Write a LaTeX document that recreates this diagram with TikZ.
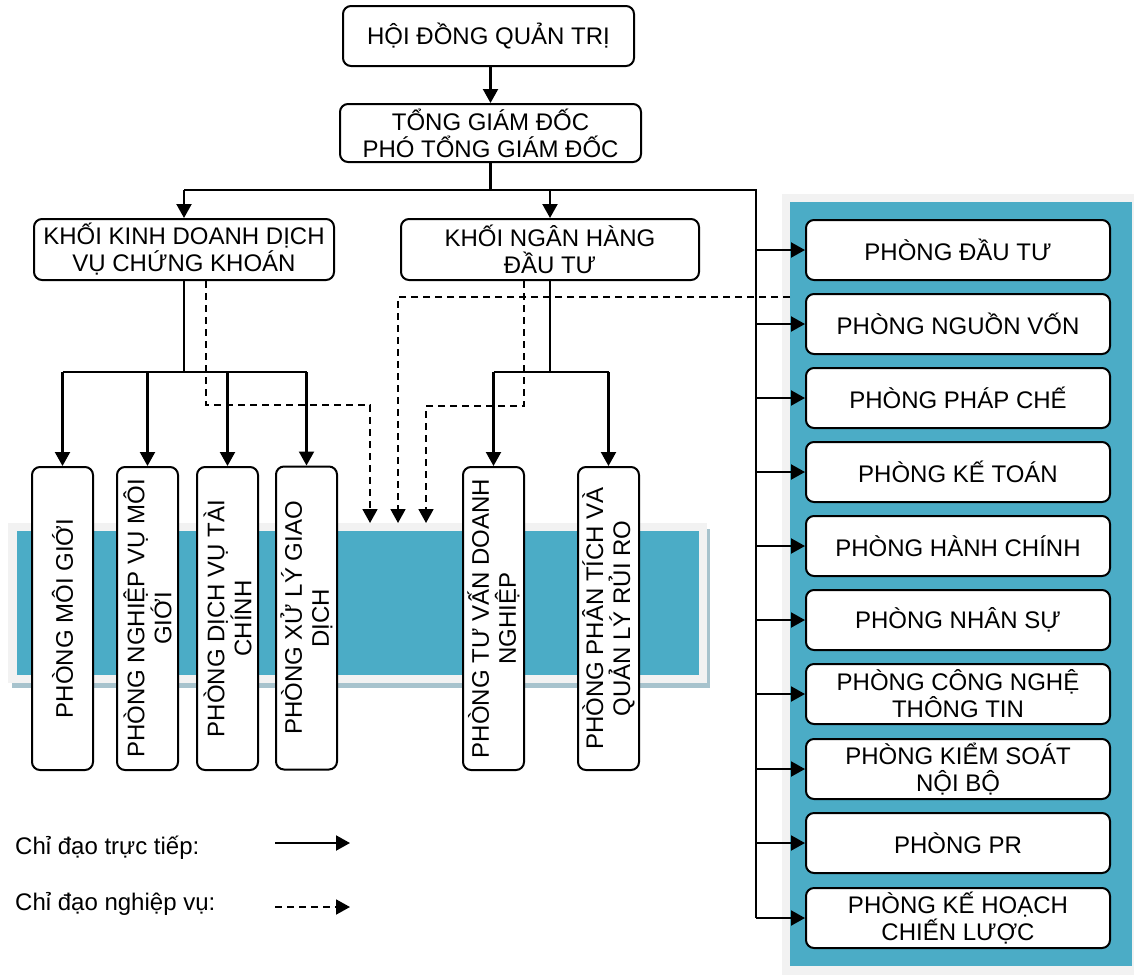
\documentclass[tikz,border=0pt]{standalone}
\usepackage{fontspec}
\setmainfont{Liberation Sans}
\usetikzlibrary{arrows.meta}
\definecolor{bandblue}{HTML}{4BACC6}
\definecolor{framegray}{HTML}{F2F2F2}
\definecolor{shadowc}{HTML}{A7C3CD}
\begin{document}
\begin{tikzpicture}[x=1pt,y=-1pt,
  box/.style={draw, line width=2pt, rounded corners=8pt, fill=white, align=center, inner sep=2pt, font=\fontsize{24}{27}\selectfont},
  vbox/.style={box, rotate=90, minimum width=303pt, minimum height=61pt},
  rbox/.style={box, minimum width=304pt, minimum height=60pt},
  link/.style={line width=2.1pt, -{Triangle[length=14pt,width=15pt]}},
  plain/.style={line width=2.1pt},
  dlink/.style={line width=1.8pt, dash pattern=on 7pt off 5pt, -{Triangle[length=14pt,width=15pt]}},
  panel/.style={inner sep=0pt, outer sep=0pt, anchor=north west},
  legend/.style={anchor=base west, inner sep=0pt, font=\fontsize{24}{27}\selectfont}
]
\useasboundingbox (0,0) rectangle (1134,975);

% left band
\fill[shadowc] (12,683) rectangle (710,688);
\fill[shadowc] (707,529) rectangle (710,688);
\node[panel, fill=framegray, minimum width=699pt, minimum height=160pt] (lframe) at (8,523) {};
\node[panel, fill=bandblue, minimum width=682pt, minimum height=144pt] (lband) at (17,531) {};

% right panel
\node[panel, fill=framegray, minimum width=352pt, minimum height=781pt] (rframe) at (782,194) {};
\node[panel, fill=bandblue, minimum width=342pt, minimum height=764pt] (rpanel) at (790,202) {};

% top boxes
\node[box, minimum width=291pt, minimum height=60pt] (hdqt) at (488.5,36) {HỘI ĐỒNG QUẢN TRỊ};
\node[box, minimum width=301pt, minimum height=58pt] (tgd) at (490.5,133) {TỔNG GIÁM ĐỐC\\PHÓ TỔNG GIÁM ĐỐC};
\node[box, minimum width=300pt, minimum height=61pt] (kkd) at (184,249.5) {KHỐI KINH DOANH DỊCH\\VỤ CHỨNG KHOÁN};
\node[box, minimum width=298pt, minimum height=61pt] (knh) at (550,249.5) {KHỐI NGÂN HÀNG\\ĐẦU TƯ};

% vertical boxes
\node[vbox] (m1) at (62.5,618.5) {PHÒNG MÔI GIỚI};
\node[vbox] (m2) at (147.5,618.5) {PHÒNG NGHIỆP VỤ MÔI\\GIỚI};
\node[vbox] (m3) at (227.5,618.5) {PHÒNG DỊCH VỤ TÀI\\CHÍNH};
\node[vbox] (m4) at (306.5,618) {PHÒNG XỬ LÝ GIAO\\DỊCH};
\node[vbox] (m5) at (493.5,618.5) {PHÒNG TƯ VẤN DOANH\\NGHIỆP};
\node[vbox] (m6) at (608.5,618.5) {PHÒNG PHÂN TÍCH VÀ\\QUẢN LÝ RỦI RO};

% right boxes
\node[rbox] (r1) at (958,250) {PHÒNG ĐẦU TƯ};
\node[rbox] (r2) at (958,324) {PHÒNG NGUỒN VỐN};
\node[rbox] (r3) at (958,398) {PHÒNG PHÁP CHẾ};
\node[rbox] (r4) at (958,472) {PHÒNG KẾ TOÁN};
\node[rbox] (r5) at (958,546) {PHÒNG HÀNH CHÍNH};
\node[rbox] (r6) at (958,620) {PHÒNG NHÂN SỰ};
\node[rbox] (r7) at (958,694) {PHÒNG CÔNG NGHỆ\\THÔNG TIN};
\node[rbox] (r8) at (958,769) {PHÒNG KIỂM SOÁT\\NỘI BỘ};
\node[rbox] (r9) at (958,843) {PHÒNG PR};
\node[rbox] (r10) at (958,918) {PHÒNG KẾ HOẠCH\\CHIẾN LƯỢC};

% main connectors
\draw[link] (hdqt.south -| tgd.south) -- (tgd.north);
\coordinate (jr) at (756,190);
\draw[plain] (tgd.south) -- (tgd.south |- jr);
\draw[plain] (kkd.north |- jr) -- (jr) -- (r10.west -| jr);
\draw[link] (kkd.north |- jr) -- (kkd.north);
\draw[link] (knh.north |- jr) -- (knh.north);
\foreach \i in {1,...,10} \draw[link] (r\i.west -| jr) -- (r\i.west);

% KKD children
\coordinate (kj) at (185,372);
\draw[plain] (kkd.south) -- (kkd.south |- kj);
\draw[plain] (m1.east |- kj) -- (m4.east |- kj);
\foreach \m in {m1,m2,m3,m4} \draw[link] (\m.east |- kj) -- (\m.east);

% KNH children
\draw[plain] (knh.south) -- (knh.south |- kj);
\draw[plain] (m5.east |- kj) -- (m6.east |- kj);
\foreach \m in {m5,m6} \draw[link] (\m.east |- kj) -- (\m.east);

% dashed connectors
\coordinate (dy) at (0,297);
\coordinate (d1) at (370,405);
\coordinate (d2) at (398,0);
\coordinate (d3) at (426,406);
\draw[dlink] ([xshift=22pt]kkd.south) |- (d1) -- (d1 |- lframe.north);
\draw[dlink] (rpanel.west |- dy) -| (d2 |- lframe.north);
\draw[dlink] ([xshift=-26pt]knh.south) |- (d3) -- (d3 |- lframe.north);

% legend
\node[legend] (lg1) at (15,854) {Chỉ đạo trực tiếp:};
\node[legend] (lg2) at (15,910) {Chỉ đạo nghiệp vụ:};
\coordinate (la1) at (275,843);
\coordinate (lb1) at (350,843);
\coordinate (la2) at (275,907);
\coordinate (lb2) at (350,907);
\draw[link] (la1) -- (lb1);
\draw[dlink] (la2) -- (lb2);
\end{tikzpicture}
\end{document}
